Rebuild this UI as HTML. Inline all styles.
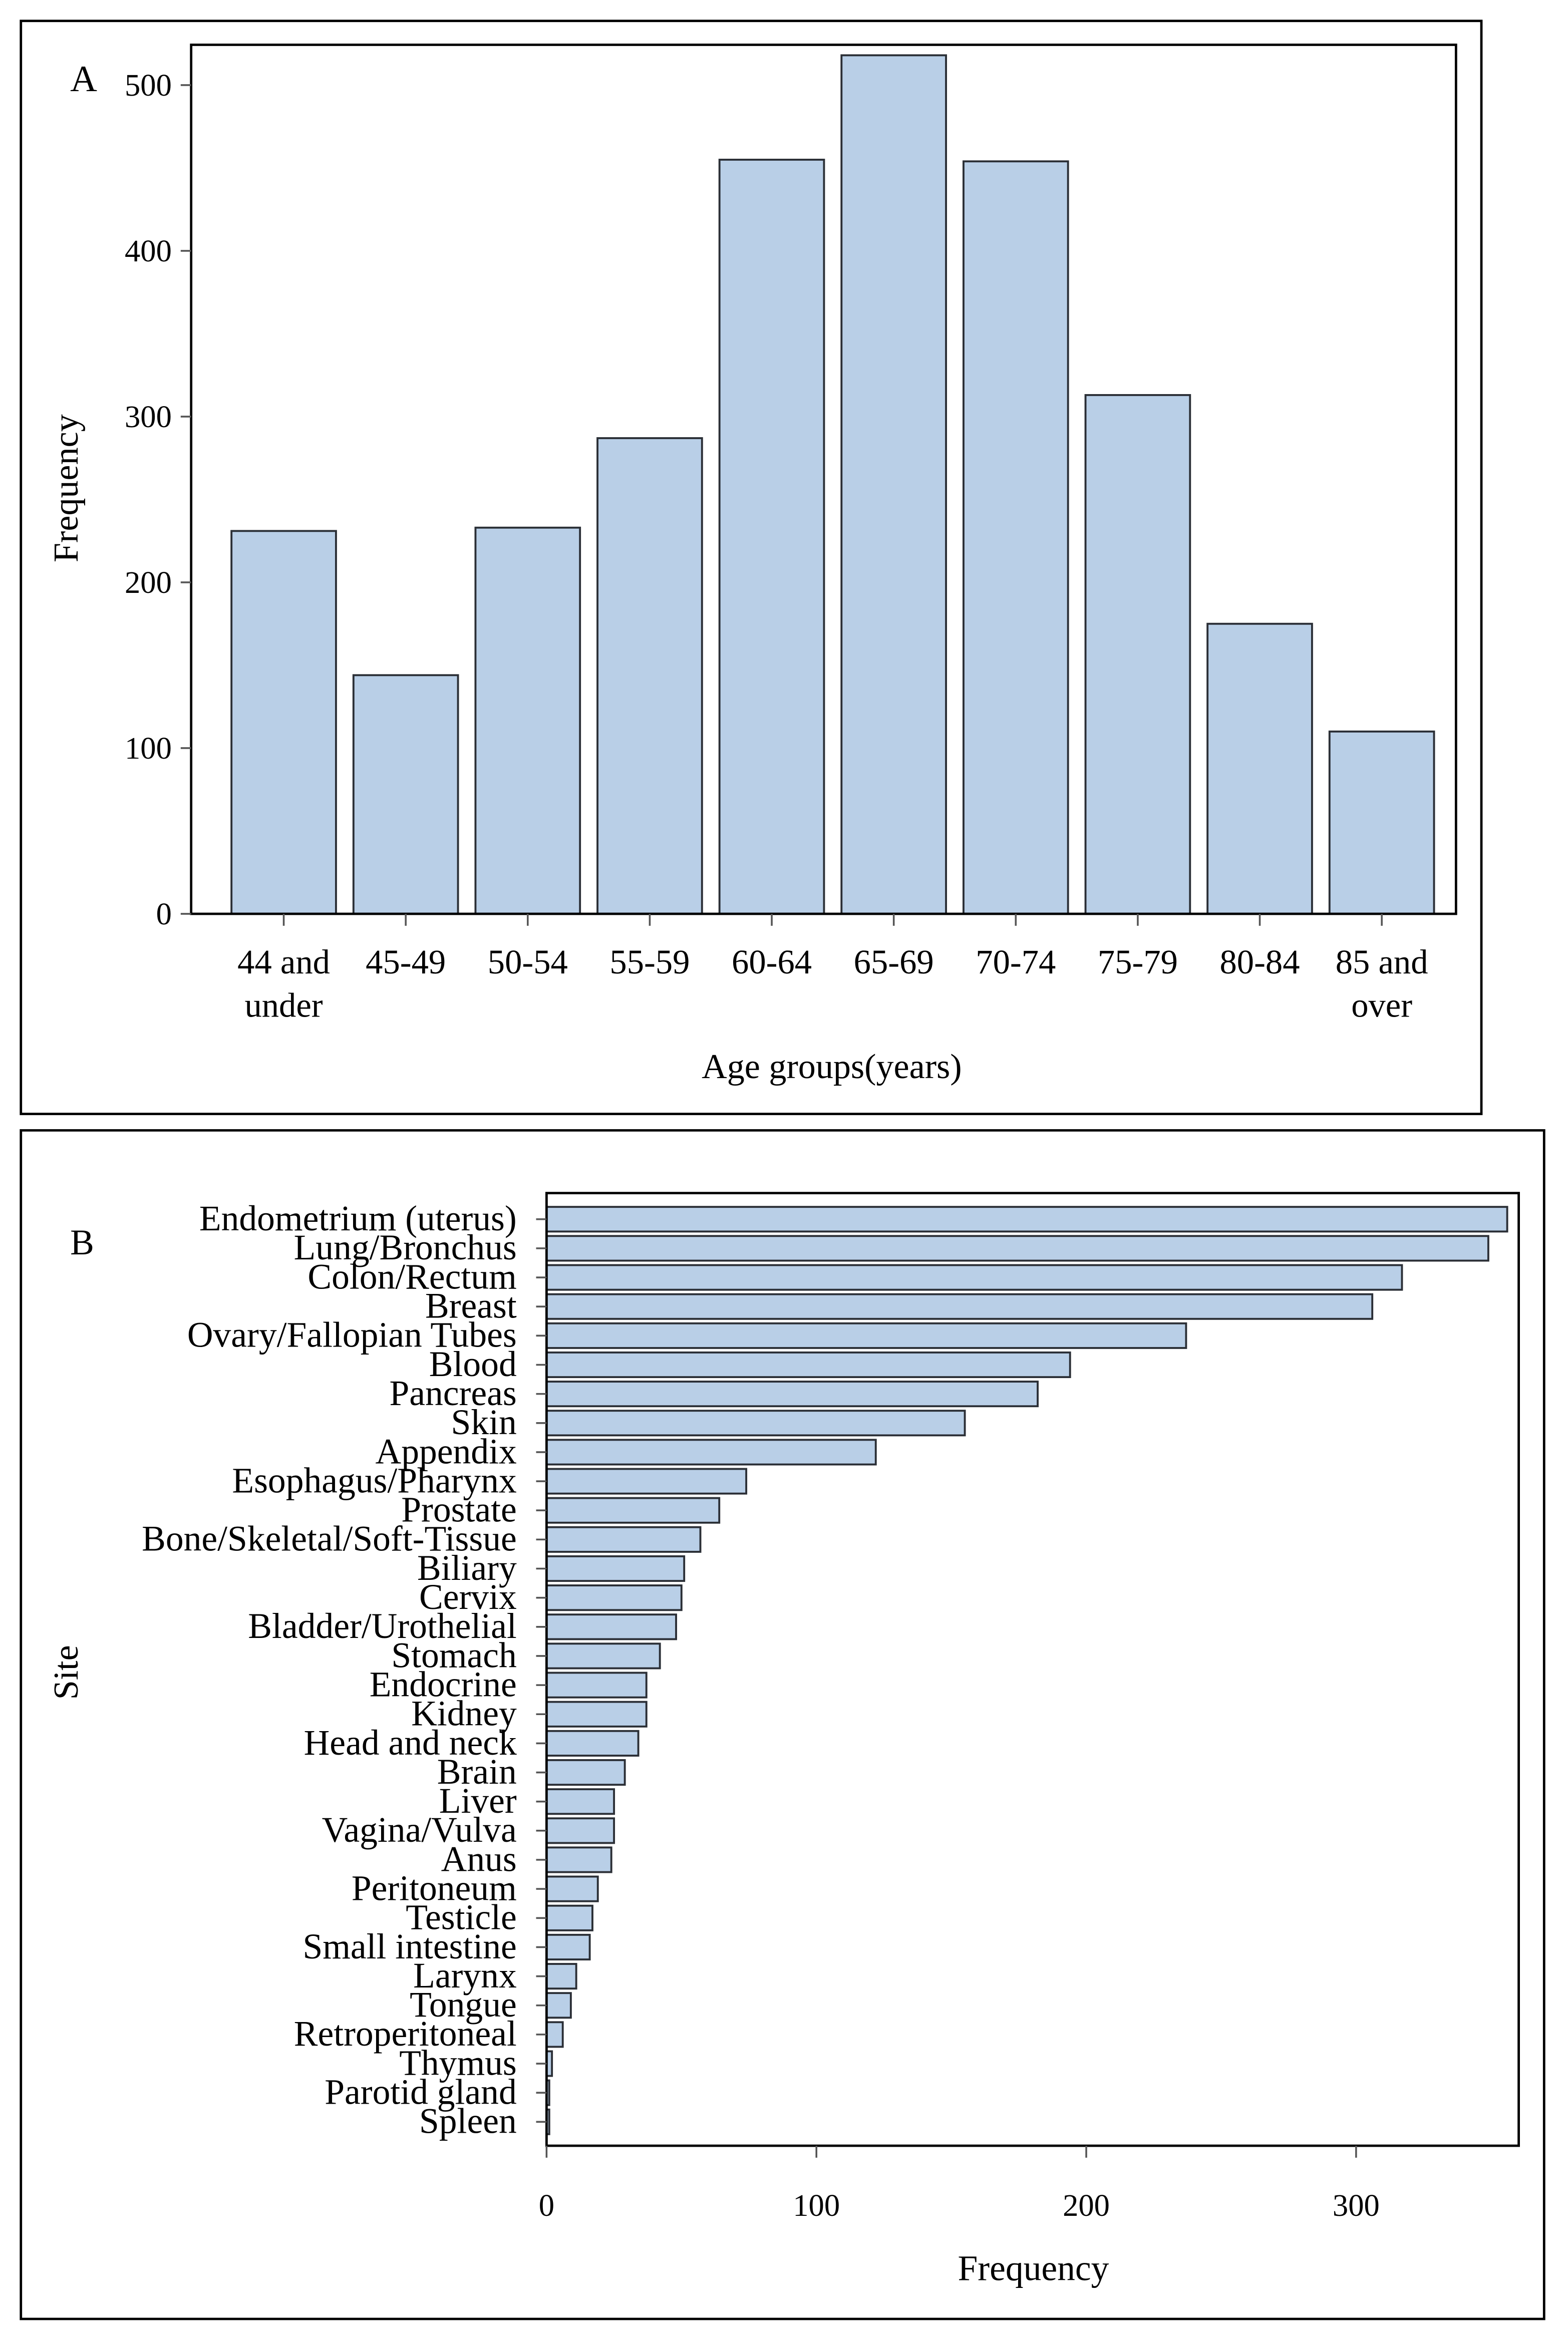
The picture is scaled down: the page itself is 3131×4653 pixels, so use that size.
<!DOCTYPE html>
<html><head><meta charset="utf-8">
<style>
html,body{margin:0;padding:0;background:#fff;}
svg{display:block;}
text{font-family:"Liberation Serif",serif;fill:#000;}
</style></head>
<body>
<svg id="fig" width="3131" height="4653" viewBox="0 0 1050 1560.4" preserveAspectRatio="none" xmlns="http://www.w3.org/2000/svg">
  <rect x="14" y="14" width="978" height="732" fill="none" stroke="#000" stroke-width="1.6"/>
  <text x="47" y="61" font-size="25">A</text>
  <g id="ga"></g>
  <rect x="14" y="757" width="1020" height="796" fill="none" stroke="#000" stroke-width="1.6"/>
  <text x="47" y="840" font-size="24">B</text>
  <g id="gb"></g>
</svg>
<script>
const ageCategories = [["44 and","under"],["45-49"],["50-54"],["55-59"],["60-64"],["65-69"],["70-74"],["75-79"],["80-84"],["85 and","over"]];
const ageValues = [231, 144, 233, 287, 455, 518, 454, 313, 175, 110];
const ageTicks = [0, 100, 200, 300, 400, 500];

const siteCategories = ["Endometrium (uterus)","Lung/Bronchus","Colon/Rectum","Breast","Ovary/Fallopian Tubes","Blood","Pancreas","Skin","Appendix","Esophagus/Pharynx","Prostate","Bone/Skeletal/Soft-Tissue","Biliary","Cervix","Bladder/Urothelial","Stomach","Endocrine","Kidney","Head and neck","Brain","Liver","Vagina/Vulva","Anus","Peritoneum","Testicle","Small intestine","Larynx","Tongue","Retroperitoneal","Thymus","Parotid gland","Spleen"];
const siteValues = [356, 349, 317, 306, 237, 194, 182, 155, 122, 74, 64, 57, 51, 50, 48, 42, 37, 37, 34, 29, 25, 25, 24, 19, 17, 16, 11, 9, 6, 2, 1, 1];
const siteTicks = [0, 100, 200, 300];

const NS = "http://www.w3.org/2000/svg";
function mk(parent, tag, attrs, txt){
  const e = document.createElementNS(NS, tag);
  for (const k in attrs) e.setAttribute(k, attrs[k]);
  if (txt !== undefined) e.textContent = txt;
  parent.appendChild(e);
  return e;
}
const FILL = "#b9cfe7", STROKE = "#2b2f36";

// ---------- Panel A ----------
(function(){
  const g = document.getElementById("ga");
  const L = 128, R = 975, T = 30, B = 612;
  const y = v => B - v * 1.11;
  const x = i => 190 + i * 81.7;
  const bw = 70;
  ageValues.forEach((v, i) => {
    const r = mk(g, "rect", {x: x(i) - bw/2, y: y(v), width: bw, height: B - y(v), fill: FILL, stroke: STROKE, "stroke-width": 1.3});
    
    
  });
  const f = mk(g, "rect", {x: L, y: T, width: R - L, height: B - T, fill: "none", stroke: "#000", "stroke-width": 1.6});
  
  
  ageTicks.forEach(t => {
    const ln = mk(g, "line", {x1: L - 7, x2: L, y1: y(t), y2: y(t), stroke: "#555", "stroke-width": 1.2});
    
    
    const tx = mk(g, "text", {x: L - 13, y: y(t) + 7, "font-size": 21, "text-anchor": "end"}, String(t));
    
    
  });
  ageCategories.forEach((c, i) => {
    const ln = mk(g, "line", {x1: x(i), x2: x(i), y1: B, y2: B + 8, stroke: "#555", "stroke-width": 1.2});
    
    
    c.forEach((s, j) => {
      const tx = mk(g, "text", {x: x(i), y: 652 + j * 29, "font-size": 23, "text-anchor": "middle"}, s);
      
      
    });
  });
  const xt = mk(g, "text", {x: 557, y: 722, "font-size": 23.5, "text-anchor": "middle"}, "Age groups(years)");
  
  
  const yt = mk(g, "text", {x: 0, y: 0, "font-size": 23.5, "text-anchor": "middle", transform: "translate(52,327) rotate(-90)"}, "Frequency");
  
  
})();

// ---------- Panel B ----------
(function(){
  const g = document.getElementById("gb");
  const L = 366, R = 1017, T = 799, B = 1437;
  const x = v => L + v * 1.807;
  const yc = i => 816.5 + i * 19.5;
  const bh = 16.5;
  siteValues.forEach((v, i) => {
    const r = mk(g, "rect", {x: L, y: yc(i) - bh/2, width: Math.max(x(v) - L, 0.5), height: bh, fill: FILL, stroke: STROKE, "stroke-width": 1.3});
    
    
  });
  const f = mk(g, "rect", {x: L, y: T, width: R - L, height: B - T, fill: "none", stroke: "#000", "stroke-width": 1.6});
  
  
  siteCategories.forEach((c, i) => {
    const ln = mk(g, "line", {x1: L - 7, x2: L, y1: yc(i), y2: yc(i), stroke: "#555", "stroke-width": 1.2});
    
    
    const tx = mk(g, "text", {x: 346, y: yc(i) + 7.5, "font-size": 24, "text-anchor": "end"}, c);
    
    
  });
  siteTicks.forEach(t => {
    const ln = mk(g, "line", {x1: x(t), x2: x(t), y1: B, y2: B + 8, stroke: "#555", "stroke-width": 1.2});
    
    
    const tx = mk(g, "text", {x: x(t), y: 1484, "font-size": 21, "text-anchor": "middle"}, String(t));
    
    
  });
  const xt = mk(g, "text", {x: 692, y: 1527, "font-size": 24, "text-anchor": "middle"}, "Frequency");
  
  
  const yt = mk(g, "text", {x: 0, y: 0, "font-size": 23.5, "text-anchor": "middle", transform: "translate(52,1120) rotate(-90)"}, "Site");
  
  
})();
</script>
</body></html>
